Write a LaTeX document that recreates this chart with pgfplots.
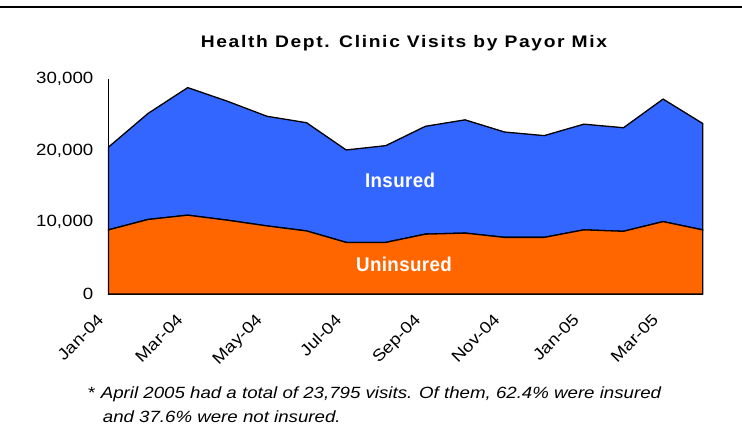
\documentclass[border=0pt]{standalone}
\usepackage{fontspec}
\setmainfont[FakeStretch=1.15]{Liberation Sans}
\newfontfamily\titlefont[FakeStretch=1.15,LetterSpace=10]{Liberation Sans}
\newfontfamily\labelfont[FakeStretch=0.94,LetterSpace=2]{Liberation Sans}
\usepackage{pgfplots}
\pgfplotsset{compat=1.18}
\definecolor{insblue}{HTML}{3366FF}
\definecolor{unorange}{HTML}{FF6600}
\begin{document}
\begin{tikzpicture}
\path[use as bounding box] (-108.5bp,-143bp) rectangle (633.5bp,294bp);
\draw[line width=2bp] (-108.5bp,287.3bp) -- (633.5bp,287.3bp);
\begin{axis}[scale only axis,width=594.2bp,height=215bp,
  xmin=0,xmax=15,ymin=0,ymax=30000,stack plots=y,clip=false,
  axis lines=left,axis line style={-,line width=0.8bp},
  xtick={0,2,...,14},
  xticklabels={Jan-04,Mar-04,May-04,Jul-04,Sep-04,Nov-04,Jan-05,Mar-05},
  ytick={0,10000,20000,30000},scaled y ticks=false,
  major tick length=0,
  /pgf/number format/assume math mode=true,
  /pgf/number format/1000 sep={,},
  tick label style={font=\fontsize{16.3}{19}\selectfont},
  yticklabel style={anchor=east,inner sep=0pt,xshift=-15bp},
  xticklabel style={inner sep=0pt,xshift=-12bp,yshift=-19bp,rotate=45,anchor=north east}]
\addplot[fill=unorange,draw=black,line width=1.3bp] coordinates {(0,8950) (1,10400) (2,11000) (3,10300) (4,9500) (5,8800) (6,7200) (7,7200) (8,8350) (9,8500) (10,7900) (11,7900) (12,8950) (13,8750) (14,10100) (15,8947)} \closedcycle;
\addplot[fill=insblue,draw=black,line width=1.3bp] coordinates {(0,11550) (1,14800) (2,17800) (3,16600) (4,15300) (5,15100) (6,12900) (7,13500) (8,15050) (9,15800) (10,14700) (11,14200) (12,14750) (13,14450) (14,17100) (15,14848)} \closedcycle;
\coordinate (ins) at (axis cs:7.36,15900);
\coordinate (unins) at (axis cs:7.46,4190);
\end{axis}
\node[text=white,font=\labelfont\bfseries\fontsize{20}{24}\selectfont] at (ins) {Insured};
\node[text=white,font=\labelfont\bfseries\fontsize{20}{24}\selectfont] at (unins) {Uninsured};
\node[anchor=base,font=\titlefont\bfseries\fontsize{16.8}{20}\selectfont] at (295.5bp,246bp) {Health Dept. Clinic Visits by Payor Mix};
\node[anchor=base west,inner sep=0pt,font=\fontsize{16.3}{19}\selectfont] at (-20.5bp,-104.5bp) {*};
\node[anchor=base west,inner sep=0pt,font=\itshape\fontsize{16.3}{19}\selectfont] at (-7.8bp,-104.5bp) {April 2005 had a total of 23,795 visits. Of them, 62.4\% were insured};
\node[anchor=base west,inner sep=0pt,font=\itshape\fontsize{16.3}{19}\selectfont] at (-5.8bp,-128bp) {and 37.6\% were not insured.};
\end{tikzpicture}
\end{document}
